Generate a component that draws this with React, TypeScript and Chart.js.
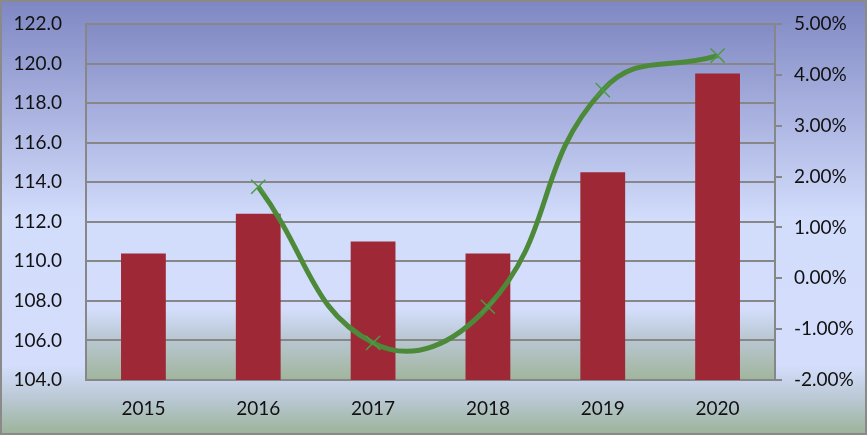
import React, { useEffect, useRef } from "react";
import { Chart, registerables } from "chart.js";

Chart.register(...registerables);

const years = ["2015", "2016", "2017", "2018", "2019", "2020"];
const barValues = [110.4, 112.4, 111.0, 110.4, 114.5, 119.5];
const growthPct = [null, 1.8, -1.27, -0.56, 3.7, 4.38];

const FONT = "Lato, 'Open Sans', sans-serif";

const bgPlugin = {
  id: "bgPlugin",
  beforeDraw(chart: any) {
    const { ctx, width, height, chartArea } = chart;
    ctx.save();
    const g = ctx.createLinearGradient(0, 0, 0, height);
    g.addColorStop(0, "#7F87C3");
    g.addColorStop(0.5, "#D2DCFB");
    g.addColorStop(0.84, "#D4DEFC");
    g.addColorStop(0.92, "#B8C7D2");
    g.addColorStop(1, "#9CB396");
    ctx.fillStyle = g;
    ctx.fillRect(0, 0, width, height);
    const { left, top, right, bottom } = chartArea;
    const g2 = ctx.createLinearGradient(0, top, 0, bottom);
    g2.addColorStop(0, "#838BC5");
    g2.addColorStop(0.55, "#D2DCFB");
    g2.addColorStop(0.8, "#D4DEFC");
    g2.addColorStop(0.88, "#BAC8D4");
    g2.addColorStop(1, "#A0B59C");
    ctx.fillStyle = g2;
    ctx.fillRect(left, top, right - left, bottom - top);
    ctx.restore();
  },
  afterDraw(chart: any) {
    const { ctx, width, height } = chart;
    ctx.save();
    ctx.strokeStyle = "#8A8A8A";
    ctx.lineWidth = 2;
    ctx.strokeRect(1, 1, width - 2, height - 2);
    ctx.restore();
  },
};

export default function App() {
  const ref = useRef<HTMLCanvasElement | null>(null);
  useEffect(() => {
    if (!ref.current) return;
    const chart = new Chart(ref.current, {
      type: "bar",
      data: {
        labels: years,
        datasets: [
          {
            type: "line",
            data: growthPct as any,
            yAxisID: "y1",
            borderColor: "#4C8A3A",
            borderWidth: 5,
            tension: 0.45,
            pointStyle: "crossRot",
            pointRadius: 10,
            pointBorderWidth: 1.5,
            pointBorderColor: "#4E9A44",
            pointBackgroundColor: "#4E9A44",
            order: 0,
          } as any,
          {
            type: "bar",
            data: barValues,
            yAxisID: "y",
            backgroundColor: "#9E2836",
            categoryPercentage: 1,
            barPercentage: 0.39,
            order: 1,
          },
        ],
      },
      options: {
        animation: false,
        responsive: false,
        maintainAspectRatio: false,
        layout: { padding: { top: 24, left: 0, right: 0, bottom: 0 } },
        plugins: { legend: { display: false }, tooltip: { enabled: false } },
        scales: {
          x: {
            grid: { display: false, drawTicks: false },
            border: { display: true, color: "#878787", width: 2 },
            ticks: { color: "#111", font: { family: FONT, size: 19 }, padding: 17 },
            afterFit: (s: any) => { s.height = 55; s.paddingLeft = 0; s.paddingRight = 0; },
          },
          y: {
            position: "left",
            min: 104,
            max: 122,
            ticks: {
              stepSize: 2,
              color: "#111",
              font: { family: FONT, size: 19 },
              padding: 24,
              callback: (v: any) => Number(v).toFixed(1),
            },
            grid: { color: "#878787", lineWidth: 2, drawTicks: false },
            border: { display: true, color: "#878787", width: 2 },
            afterFit: (s: any) => { s.width = 86; s.paddingTop = 0; s.paddingBottom = 0; },
          },
          y1: {
            position: "right",
            min: -2,
            max: 5,
            ticks: {
              stepSize: 1,
              color: "#111",
              font: { family: FONT, size: 19 },
              padding: 12,
              callback: (v: any) => Number(v).toFixed(2) + "%",
            },
            grid: { drawOnChartArea: false, color: "#878787", lineWidth: 2, tickLength: 7 },
            border: { display: true, color: "#878787", width: 2 },
            afterFit: (s: any) => { s.width = 92; s.paddingTop = 0; s.paddingBottom = 0; },
          },
        },
      },
      plugins: [bgPlugin],
    } as any);
    return () => chart.destroy();
  }, []);
  return (
    <div style={{ position: "absolute", left: 0, top: 0, width: 867, height: 435 }}>
      <canvas ref={ref} width={867} height={435} style={{ display: "block" }} />
    </div>
  );
}
